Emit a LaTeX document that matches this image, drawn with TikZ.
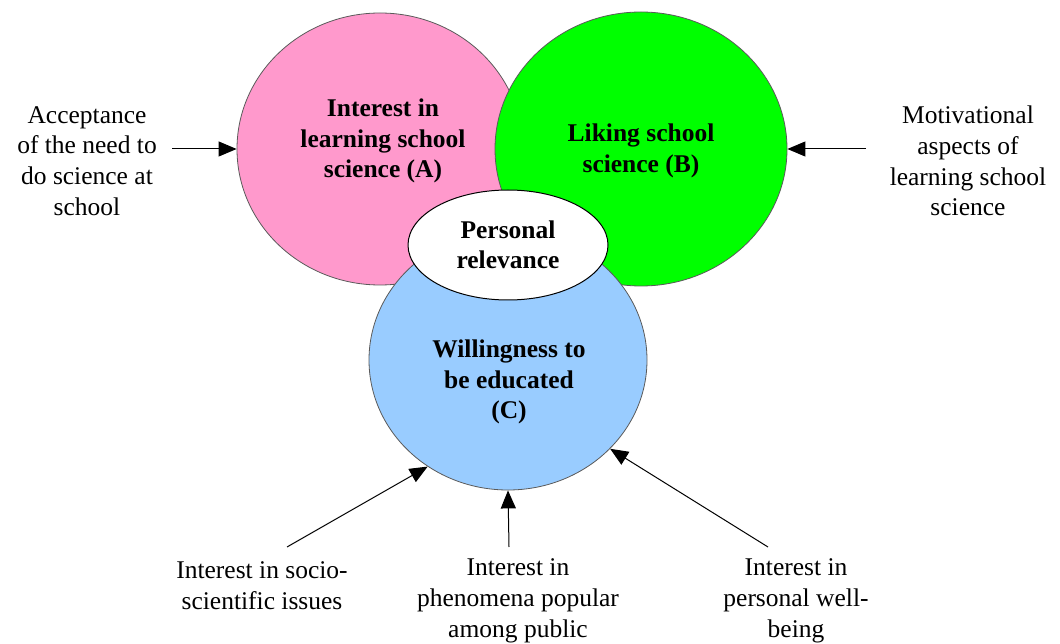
\documentclass[tikz,border=0pt]{standalone}
\usepackage{fontspec}
\setmainfont{Liberation Serif}
\usetikzlibrary{shapes.geometric,arrows.meta}
\definecolor{pinkA}{HTML}{FF99CC}
\definecolor{greenB}{HTML}{00FF00}
\definecolor{blueC}{HTML}{99CCFF}
\definecolor{rim}{HTML}{5A5A5A}
\begin{document}
\begin{tikzpicture}[x=1pt,y=-1pt,
  blob/.style={ellipse,draw=rim,line width=0.8pt,inner sep=0pt},
  intext/.style={align=center,font=\fontsize{25.5}{30.5}\selectfont\bfseries},
  outtext/.style={align=center,font=\fontsize{25.5}{30.8}\selectfont},
  arr/.style={-{Triangle[length=18pt,width=15pt]},line width=1pt}]
\useasboundingbox (0,0) rectangle (1060,644);
\node[blob,fill=pinkA,minimum width=286pt,minimum height=272pt] (A) at (380,149) {};
\node[blob,fill=greenB,minimum width=292pt,minimum height=274pt] (B) at (641,149) {};
\node[blob,fill=blueC,minimum width=278pt,minimum height=260pt] (C) at (508,360) {};
\node[blob,fill=white,draw=black,line width=1pt,minimum width=200pt,minimum height=110pt] (P) at (508,245) {};
\node[intext] (At) at (383,141) {Interest in\\learning school\\science (A)};
\node[intext] (Bt) at (641,151) {Liking school\\science (B)};
\node[intext] (Ct) at (509,382) {Willingness to\\be educated\\(C)};
\node[intext] (Pt) at (508,245) {Personal\\relevance};
\node[outtext] (L) at (87,161) {Acceptance\\of the need to\\do science at\\school};
\node[outtext] (R) at (968,161) {Motivational\\aspects of\\learning school\\science};
\node[outtext] (D1) at (262,586) {Interest in socio-\\scientific issues};
\node[outtext] (D2) at (518,601) {Interest in\\phenomena popular\\among public};
\node[outtext] (D3) at (796,601) {Interest in\\personal well-\\being};
\coordinate (l0) at (172,149);
\coordinate (r0) at (866,149);
\coordinate (d1) at (287,547);
\coordinate (d2) at (509,547);
\coordinate (d3) at (768,547);
\draw[arr] (l0) -- (A.west);
\draw[arr] (r0) -- (B.east);
\draw[arr] (d1) -- (C.233);
\draw[arr] (d2) -- (C.south);
\draw[arr] (d3) -- (C.319);
\end{tikzpicture}
\end{document}
